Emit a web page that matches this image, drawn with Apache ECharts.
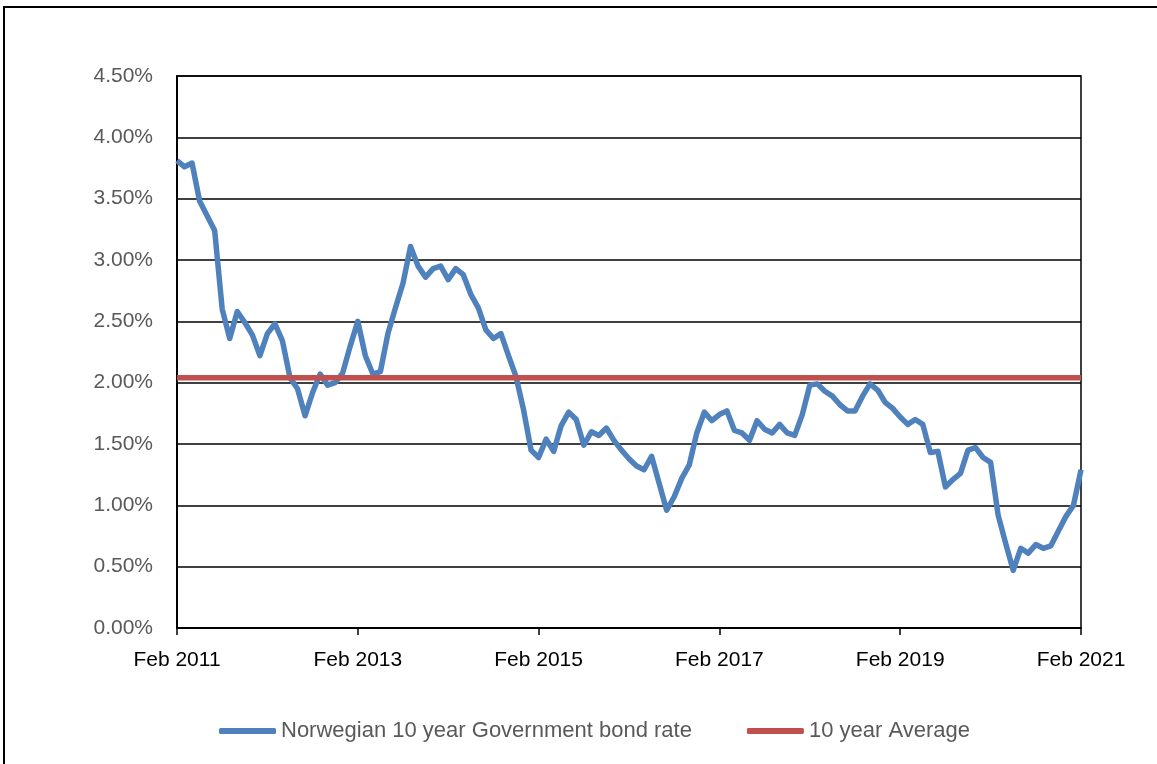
<!DOCTYPE html>
<html>
<head>
<meta charset="utf-8">
<title>Norwegian 10 year Government bond rate</title>
<script src="https://cdn.jsdelivr.net/npm/echarts@6/dist/echarts.min.js"></script>
<style>
  html, body { margin: 0; padding: 0; background: #fff; }
  #chart { width: 1157px; height: 764px; }
</style>
</head>
<body>
<div id="chart"></div>
<script>
// monthly rates, Feb 2011 - Feb 2021 (%)
const rates = [
  3.81, 3.76, 3.79, 3.48, 3.36, 3.24, 2.60, 2.36, 2.58, 2.49, 2.39, 2.22,
  2.40, 2.48, 2.34, 2.04, 1.95, 1.73, 1.92, 2.07, 1.98, 2.00, 2.08, 2.30,
  2.50, 2.22, 2.07, 2.09, 2.40, 2.61, 2.81, 3.11, 2.95, 2.86, 2.93, 2.95,
  2.84, 2.93, 2.88, 2.72, 2.61, 2.43, 2.36, 2.40, 2.22, 2.05, 1.78, 1.45,
  1.39, 1.54, 1.44, 1.65, 1.76, 1.70, 1.49, 1.60, 1.57, 1.63, 1.53, 1.45,
  1.38, 1.32, 1.29, 1.40, 1.18, 0.96, 1.07, 1.22, 1.33, 1.59, 1.76, 1.69,
  1.74, 1.77, 1.61, 1.59, 1.53, 1.69, 1.62, 1.59, 1.66, 1.59, 1.57, 1.74,
  1.98, 1.99, 1.93, 1.89, 1.82, 1.77, 1.77, 1.89, 1.99, 1.94, 1.84, 1.79,
  1.72, 1.66, 1.70, 1.66, 1.43, 1.44, 1.15, 1.21, 1.26, 1.45, 1.47, 1.39,
  1.35, 0.92, 0.69, 0.47, 0.65, 0.61, 0.68, 0.65, 0.67, 0.79, 0.91, 1.00,
  1.29
]
const averageRate = 2.04

const monthNames = ['Jan', 'Feb', 'Mar', 'Apr', 'May', 'Jun', 'Jul', 'Aug', 'Sep', 'Oct', 'Nov', 'Dec']
const months = []
for (let i = 0; i < rates.length; i++) {
  const m = (1 + i) % 12
  const y = 2011 + Math.floor((1 + i) / 12)
  months.push(monthNames[m] + ' ' + y)
}

const yTicks = { min: 0, max: 4.5, step: 0.5 }

const FONT = 'Liberation Sans'
const chart = echarts.init(document.getElementById('chart'))

chart.setOption({
  animation: false,
  textStyle: { fontFamily: FONT },
  graphic: [{
    type: 'rect',
    shape: { x: 4, y: 7, width: 1170, height: 780 },
    style: { fill: 'none', stroke: '#000', lineWidth: 2 },
    silent: true
  }],
  grid: {
    left: 177, right: 76, top: 76, bottom: 136,
    show: true, borderColor: '#000', borderWidth: 1.5,
    containLabel: false
  },
  legend: {
    left: 214,
    top: 715,
    itemWidth: 57,
    itemHeight: 6,
    itemGap: 55,
    icon: 'roundRect',
    textStyle: { color: '#595959', fontSize: 22, fontFamily: FONT },
    data: ['Norwegian 10 year Government bond rate', '10 year Average']
  },
  xAxis: {
    type: 'category',
    data: months,
    boundaryGap: false,
    axisLine: { lineStyle: { color: '#000', width: 2 } },
    axisTick: { show: true, interval: 23, length: 7, lineStyle: { color: '#000', width: 1.5 } },
    axisLabel: { interval: 23, color: '#000', fontSize: 21, margin: 22, fontFamily: FONT },
    splitLine: { show: false }
  },
  yAxis: {
    type: 'value',
    min: yTicks.min,
    max: yTicks.max,
    interval: yTicks.step,
    axisLine: { show: true, lineStyle: { color: '#000', width: 2 } },
    axisTick: { show: false },
    axisLabel: {
      color: '#595959', fontSize: 21, margin: 24, fontFamily: FONT,
      formatter: v => v.toFixed(2) + '%'
    },
    splitLine: { show: true, lineStyle: { color: '#000', width: 1.5 } }
  },
  series: [
    {
      name: 'Norwegian 10 year Government bond rate',
      type: 'line',
      data: rates,
      showSymbol: false,
      symbol: 'none',
      lineStyle: { color: '#4F81BD', width: 5.5, join: 'round' },
      itemStyle: { color: '#4F81BD' }
    },
    {
      name: '10 year Average',
      type: 'line',
      data: [[months[0], averageRate], [months[months.length - 1], averageRate]],
      showSymbol: false,
      symbol: 'none',
      lineStyle: { color: '#C0504D', width: 5.5 },
      itemStyle: { color: '#C0504D' }
    }
  ]
})
</script>
</body>
</html>
